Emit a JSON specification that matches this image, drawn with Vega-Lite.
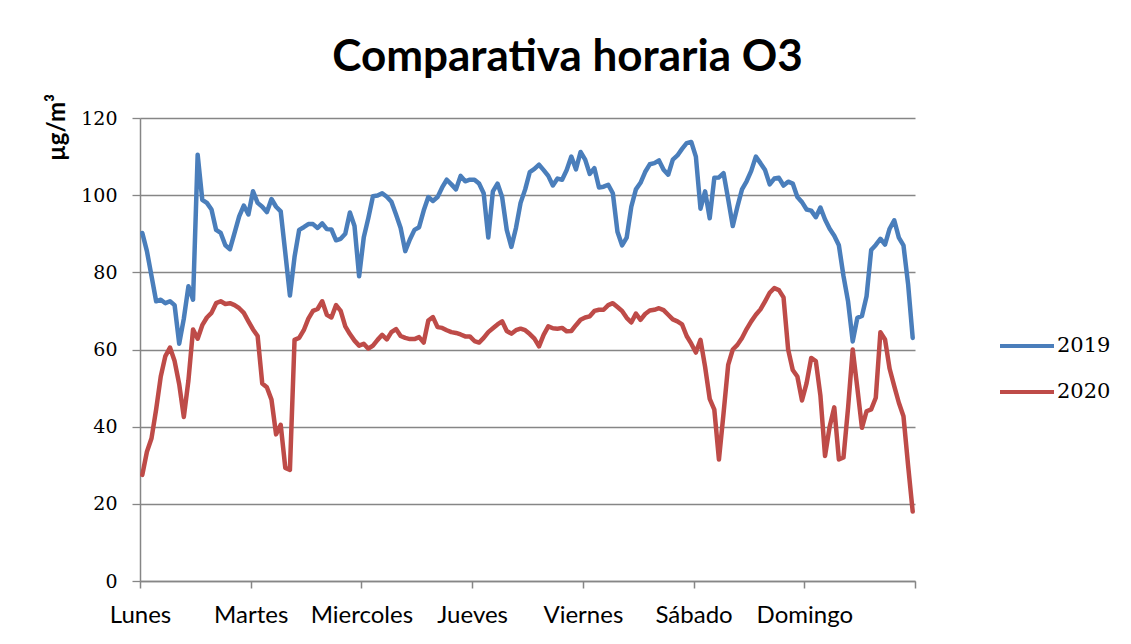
{
"$schema": "https://vega.github.io/schema/vega-lite/v6.json",
"width": 775, "height": 463,
"autosize": {"type": "none"},
"padding": {"left": 140, "top": 118, "right": 216, "bottom": 63},
"background": "white",
"title": {"text": "Comparativa horaria O3", "font": "Lato", "fontSize": 44, "fontWeight": "bold", "color": "black", "anchor": "middle", "dx": 40, "dy": 57, "offset": 35, "baseline": "alphabetic"},
"data": {"values": [
{"h":0,"2019":90.2,"2020":27.5},{"h":1,"2019":85.5,"2020":33.5},{"h":2,"2019":79,"2020":37},{"h":3,"2019":72.5,"2020":44.5},{"h":4,"2019":72.9,"2020":53},{"h":5,"2019":72,"2020":58.3},{"h":6,"2019":72.5,"2020":60.5},{"h":7,"2019":71.5,"2020":57},{"h":8,"2019":61.5,"2020":51},{"h":9,"2019":68,"2020":42.5},
{"h":10,"2019":76.4,"2020":52},{"h":11,"2019":72.9,"2020":65.2},{"h":12,"2019":110.5,"2020":62.8},{"h":13,"2019":98.8,"2020":66.3},{"h":14,"2019":98,"2020":68.3},{"h":15,"2019":96.3,"2020":69.5},{"h":16,"2019":91,"2020":72},{"h":17,"2019":90.2,"2020":72.5},{"h":18,"2019":87,"2020":71.8},{"h":19,"2019":86,"2020":72},
{"h":20,"2019":90.2,"2020":71.5},{"h":21,"2019":94.5,"2020":70.7},{"h":22,"2019":97.3,"2020":69.5},{"h":23,"2019":95,"2020":67.3},{"h":24,"2019":101,"2020":65.2},{"h":25,"2019":98,"2020":63.5},{"h":26,"2019":97,"2020":51.2},{"h":27,"2019":95.6,"2020":50.2},{"h":28,"2019":99,"2020":47},{"h":29,"2019":97,"2020":38},
{"h":30,"2019":95.8,"2020":40.5},{"h":31,"2019":85,"2020":29.3},{"h":32,"2019":74,"2020":28.8},{"h":33,"2019":84,"2020":62.5},{"h":34,"2019":91,"2020":63},{"h":35,"2019":91.7,"2020":65},{"h":36,"2019":92.5,"2020":68},{"h":37,"2019":92.5,"2020":70},{"h":38,"2019":91.5,"2020":70.5},{"h":39,"2019":92.7,"2020":72.5},
{"h":40,"2019":91.2,"2020":69},{"h":41,"2019":91.1,"2020":68.3},{"h":42,"2019":88.3,"2020":71.5},{"h":43,"2019":88.7,"2020":70},{"h":44,"2019":90,"2020":66},{"h":45,"2019":95.5,"2020":64},{"h":46,"2019":92,"2020":62.3},{"h":47,"2019":79,"2020":61},{"h":48,"2019":89,"2020":61.5},{"h":49,"2019":94.1,"2020":60.2},
{"h":50,"2019":99.7,"2020":61},{"h":51,"2019":99.9,"2020":62.5},{"h":52,"2019":100.5,"2020":63.8},{"h":53,"2019":99.6,"2020":62.6},{"h":54,"2019":98.3,"2020":64.5},{"h":55,"2019":95,"2020":65.3},{"h":56,"2019":91.5,"2020":63.5},{"h":57,"2019":85.5,"2020":63},{"h":58,"2019":88.5,"2020":62.7},{"h":59,"2019":91,"2020":62.7},
{"h":60,"2019":91.7,"2020":63.2},{"h":61,"2019":96,"2020":61.8},{"h":62,"2019":99.5,"2020":67.5},{"h":63,"2019":98.5,"2020":68.4},{"h":64,"2019":99.5,"2020":65.8},{"h":65,"2019":102,"2020":65.6},{"h":66,"2019":104,"2020":65},{"h":67,"2019":102.8,"2020":64.5},{"h":68,"2019":101.5,"2020":64.3},{"h":69,"2019":105,"2020":63.9},
{"h":70,"2019":103.6,"2020":63.4},{"h":71,"2019":104,"2020":63.4},{"h":72,"2019":104,"2020":62.2},{"h":73,"2019":103,"2020":61.8},{"h":74,"2019":100.5,"2020":63},{"h":75,"2019":89,"2020":64.5},{"h":76,"2019":101,"2020":65.5},{"h":77,"2019":103,"2020":66.5},{"h":78,"2019":99.5,"2020":67.3},{"h":79,"2019":91,"2020":64.8},
{"h":80,"2019":86.6,"2020":64.1},{"h":81,"2019":91.5,"2020":65},{"h":82,"2019":98,"2020":65.4},{"h":83,"2019":101.5,"2020":65},{"h":84,"2019":106,"2020":64},{"h":85,"2019":106.8,"2020":62.8},{"h":86,"2019":107.9,"2020":60.8},{"h":87,"2019":106.5,"2020":63.8},{"h":88,"2019":105,"2020":66},{"h":89,"2019":102.5,"2020":65.5},
{"h":90,"2019":104.3,"2020":65.4},{"h":91,"2019":104,"2020":65.6},{"h":92,"2019":106.5,"2020":64.7},{"h":93,"2019":110,"2020":64.8},{"h":94,"2019":106.7,"2020":66.3},{"h":95,"2019":111.2,"2020":67.7},{"h":96,"2019":109.2,"2020":68.3},{"h":97,"2019":105.5,"2020":68.6},{"h":98,"2019":107,"2020":70},{"h":99,"2019":102,"2020":70.3},
{"h":100,"2019":102.2,"2020":70.3},{"h":101,"2019":102.7,"2020":71.5},{"h":102,"2019":100.5,"2020":72},{"h":103,"2019":90.5,"2020":71},{"h":104,"2019":87,"2020":70},{"h":105,"2019":89,"2020":68.2},{"h":106,"2019":97,"2020":67},{"h":107,"2019":101.5,"2020":69.3},{"h":108,"2019":103.2,"2020":67.7},{"h":109,"2019":106,"2020":69.2},
{"h":110,"2019":108,"2020":70.1},{"h":111,"2019":108.3,"2020":70.3},{"h":112,"2019":109,"2020":70.7},{"h":113,"2019":106.6,"2020":70.2},{"h":114,"2019":105.3,"2020":69},{"h":115,"2019":109.2,"2020":67.8},{"h":116,"2019":110.3,"2020":67.3},{"h":117,"2019":112,"2020":66.5},{"h":118,"2019":113.5,"2020":63.5},{"h":119,"2019":113.8,"2020":61.5},
{"h":120,"2019":110,"2020":59.2},{"h":121,"2019":96.5,"2020":62.5},{"h":122,"2019":101,"2020":55.5},{"h":123,"2019":94,"2020":47.2},{"h":124,"2019":104.5,"2020":44.4},{"h":125,"2019":104.6,"2020":31.5},{"h":126,"2019":105.7,"2020":43.5},{"h":127,"2019":99,"2020":56},{"h":128,"2019":92,"2020":60},{"h":129,"2019":97,"2020":61.2},
{"h":130,"2019":101.5,"2020":63},{"h":131,"2019":103.6,"2020":65.3},{"h":132,"2019":106.3,"2020":67.3},{"h":133,"2019":110,"2020":69},{"h":134,"2019":108.3,"2020":70.4},{"h":135,"2019":106.5,"2020":72.5},{"h":136,"2019":102.8,"2020":74.7},{"h":137,"2019":104.3,"2020":75.9},{"h":138,"2019":104.5,"2020":75.4},{"h":139,"2019":102.5,"2020":73.5},
{"h":140,"2019":103.5,"2020":60},{"h":141,"2019":103,"2020":54.7},{"h":142,"2019":99.5,"2020":53},{"h":143,"2019":98.2,"2020":46.8},{"h":144,"2019":96.3,"2020":51.3},{"h":145,"2019":96,"2020":57.8},{"h":146,"2019":94.3,"2020":57},{"h":147,"2019":96.8,"2020":48},{"h":148,"2019":93.7,"2020":32.4},{"h":149,"2019":91.3,"2020":40},
{"h":150,"2019":89.5,"2020":45},{"h":151,"2019":87,"2020":31.5},{"h":152,"2019":79,"2020":32},{"h":153,"2019":72.4,"2020":45},{"h":154,"2019":62.1,"2020":60},{"h":155,"2019":68.2,"2020":50},{"h":156,"2019":68.7,"2020":39.7},{"h":157,"2019":73.8,"2020":44},{"h":158,"2019":85.8,"2020":44.5},{"h":159,"2019":87.1,"2020":47.5},
{"h":160,"2019":88.7,"2020":64.5},{"h":161,"2019":87.2,"2020":62.6},{"h":162,"2019":91.3,"2020":55},{"h":163,"2019":93.5,"2020":50.5},{"h":164,"2019":89,"2020":46.2},{"h":165,"2019":87,"2020":42.7},{"h":166,"2019":77,"2020":30},{"h":167,"2019":63,"2020":18}
]},
"transform": [{"fold": ["2019", "2020"], "as": ["serie", "valor"]}],
"mark": {"type": "line", "strokeWidth": 4.5, "strokeJoin": "round", "strokeCap": "round", "clip": false},
"encoding": {
  "x": {"field": "h", "type": "quantitative",
    "scale": {"domain": [-0.5, 167.5], "nice": false, "zero": false},
    "axis": {"values": [-0.5, 23.5, 47.5, 71.5, 95.5, 119.5, 143.5, 167.5],
      "labelExpr": "['Lunes','Martes','Miercoles','Jueves','Viernes','Sábado','Domingo',''][round((datum.value+0.5)/24)]",
      "title": null, "grid": false, "domainColor": "#868686", "domainWidth": 1.5,
      "tickColor": "#868686", "tickWidth": 1.5, "tickSize": 7,
      "labelFont": "Lato", "labelFontSize": 24, "labelColor": "black", "labelPadding": 15, "labelDx": 3,
      "labelOverlap": false, "labelBound": false, "labelFlush": false}},
  "y": {"field": "valor", "type": "quantitative",
    "scale": {"domain": [0, 120], "nice": false},
    "axis": {"values": [0, 20, 40, 60, 80, 100, 120], "title": "µg/m³",
      "titleFont": "Lato", "titleFontSize": 24, "titleFontWeight": "bold", "titleColor": "black",
      "titleAngle": -90, "titleX": -76, "titleY": 9, "titleAlign": "center", "titleBaseline": "alphabetic",
      "grid": true, "gridColor": "#868686", "gridWidth": 1.3,
      "domainColor": "#868686", "domainWidth": 1.5, "tickColor": "#868686", "tickWidth": 1.3, "tickSize": 8,
      "labelFont": "DejaVu Serif", "labelFontSize": 19, "labelColor": "black", "labelPadding": 15}},
  "color": {"field": "serie", "type": "nominal",
    "scale": {"domain": ["2019", "2020"], "range": ["#4A7EBB", "#BE4B48"]},
    "legend": {"title": null, "orient": "none", "legendX": 858, "legendY": 199, "padding": 0,
      "symbolType": "stroke", "symbolSize": 2916, "symbolStrokeWidth": 4,
      "labelFont": "DejaVu Serif", "labelFontSize": 21, "labelColor": "black", "labelOffset": 1, "rowPadding": 7}}
},
"config": {"view": {"stroke": null}}
}
